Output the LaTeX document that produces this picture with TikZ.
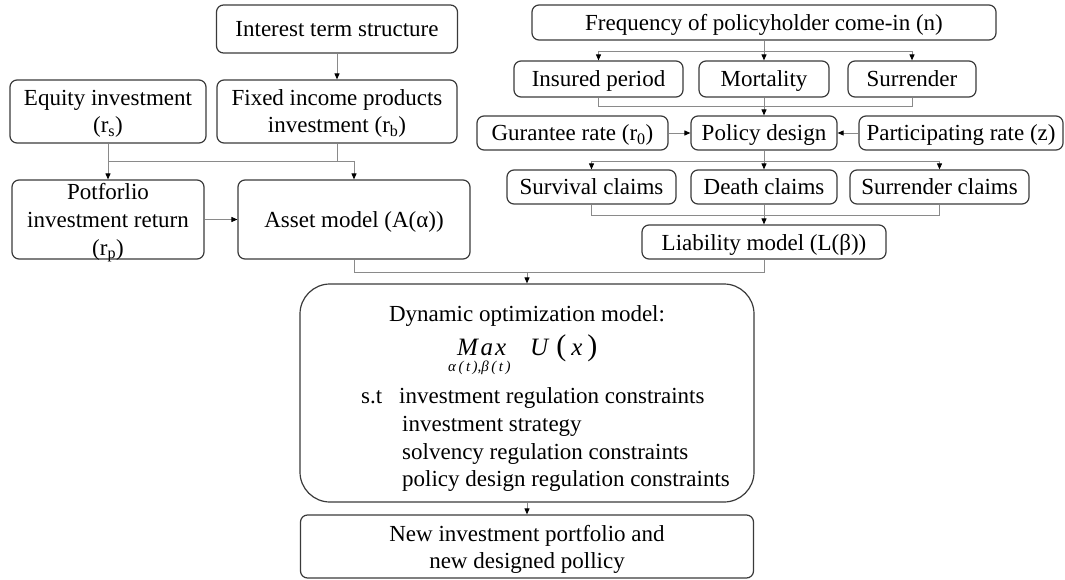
\documentclass[tikz,border=0pt]{standalone}
\usepackage{fontspec}
\setmainfont{Liberation Serif}
\usetikzlibrary{arrows.meta}
\definecolor{boxc}{HTML}{3A3A3A}
\definecolor{linec}{HTML}{8A8A8A}
\begin{document}
\begin{tikzpicture}[x=1pt,y=-1pt,
  box/.style={draw=boxc, line width=1.2pt, rounded corners=7pt, inner sep=0pt, align=center, text height=21pt, text depth=5pt, font=\fontsize{23}{27.5}\selectfont},
  txt/.style={inner sep=0pt, font=\fontsize{23}{27.5}\selectfont},
  conn/.style={draw=linec, line width=0.9pt},
  arr/.style={conn, -{Triangle[length=6pt,width=5pt,color=black]}}]
\useasboundingbox (0,0) rectangle (1065,580);
% left column
\node[box, minimum width=241pt, minimum height=48pt] (its) at (337,29) {Interest term structure};
\node[box, minimum width=196pt, minimum height=63pt] (eq) at (108,111.5) {};
\node[txt, anchor=base] (eq1) at (108,106) {Equity investment};
\node[txt, anchor=base] (eq2) at (108,133) {(r\textsubscript{s})};
\node[box, minimum width=240pt, minimum height=63pt] (fix) at (337,111.5) {};
\node[txt, anchor=base] (fix1) at (337,106) {Fixed income products};
\node[txt, anchor=base] (fix2) at (337,133) {investment (r\textsubscript{b})};
\node[box, minimum width=192pt, minimum height=79pt] (pot) at (108,219.5) {};
\node[txt, anchor=base] (pot1) at (108,200) {Potforlio};
\node[txt, anchor=base] (pot2) at (108,227.5) {investment return};
\node[txt, anchor=base] (pot3) at (108,255) {(r\textsubscript{p})};
\node[box, minimum width=232pt, minimum height=79pt] (asset) at (354,219.5) {Asset model (A(α))};
% right column
\node[box, minimum width=464pt, minimum height=35pt] (freq) at (764,22.5) {Frequency of policyholder come-in (n)};
\node[box, minimum width=169pt, minimum height=36pt] (ins) at (598.5,79) {Insured period};
\node[box, minimum width=130pt, minimum height=36pt] (mort) at (764,79) {Mortality};
\node[box, minimum width=128pt, minimum height=36pt] (surr) at (912,79) {Surrender};
\node[box, minimum width=191pt, minimum height=34pt] (gur) at (572.5,133) {Gurantee rate (r\textsubscript{0})};
\node[box, minimum width=146pt, minimum height=34pt] (pol) at (764,133) {Policy design};
\node[box, minimum width=204pt, minimum height=34pt] (par) at (961,133) {Participating rate (z)};
\node[box, minimum width=169pt, minimum height=34pt] (surv) at (591.5,187) {Survival claims};
\node[box, minimum width=146pt, minimum height=34pt] (death) at (764,187) {Death claims};
\node[box, minimum width=179pt, minimum height=34pt] (surc) at (939.5,187) {Surrender claims};
\node[box, minimum width=244pt, minimum height=34pt] (liab) at (764,242) {Liability model (L(β))};
% bottom
\node[box, rounded corners=30pt, minimum width=454pt, minimum height=218pt] (dyn) at (527,393) {};
\node[box, minimum width=453pt, minimum height=63pt] (new) at (527,546.5) {};
\node[txt, anchor=base] (new1) at (527,541.7) {New investment portfolio and};
\node[txt, anchor=base] (new2) at (527,568.3) {new designed pollicy};
% dynamic model text
\node[txt, anchor=base] (d1) at (527,321.7) {Dynamic optimization model:};
\node[inner sep=0pt, anchor=base west, font=\fontsize{25}{27}\selectfont] (mx) at (457,355) {\itshape M\kern2.5pt a\kern2pt x};
\node[inner sep=0pt, anchor=base west, font=\fontsize{15}{17}\selectfont] (sub) at (448,371) {\itshape α\kern2.5pt(\kern2.5pt t\kern2.5pt),β\kern2.5pt(\kern2.5pt t\kern2.5pt)};
\node[inner sep=0pt, anchor=base west, font=\fontsize{25}{27}\selectfont] (ux) at (530,355) {\itshape U\kern8pt{\upshape\fontsize{30}{30}\selectfont(}\kern5pt x\kern5pt{\upshape\fontsize{30}{30}\selectfont)}};
\node[txt, anchor=base west] (st) at (361,403) {s.t};
\node[txt, anchor=base west] (c1) at (399,403) {investment regulation constraints};
\node[txt, anchor=base west] (c2) at (402,431.5) {investment strategy};
\node[txt, anchor=base west] (c3) at (402,459.3) {solvency regulation constraints};
\node[txt, anchor=base west] (c4) at (402,486.7) {policy design regulation constraints};
% joints
\coordinate (jC) at (0,51);
\coordinate (jD) at (0,106);
\coordinate (jA) at (0,161);
\coordinate (jF) at (0,215);
\coordinate (jB) at (0,272);
% left connectors
\draw[arr] (its.south) -- (fix.north);
\draw[conn] (eq.south) -- (eq.south|-jA) -- (asset.north|-jA);
\draw[conn] (fix.south) -- (fix.south|-jA);
\draw[arr] (eq.south|-jA) -- (pot.north);
\draw[arr] (asset.north|-jA) -- (asset.north);
\draw[arr] (pot.east) -- (asset.west);
\draw[conn] (asset.south) -- (asset.south|-jB) -- (liab.south|-jB) -- (liab.south);
\draw[arr] (dyn.north|-jB) -- (dyn.north);
\draw[arr] (dyn.south) -- (new.north);
% right connectors
\draw[conn] (freq.south) -- (freq.south|-jC);
\draw[conn] (ins.north|-jC) -- (surr.north|-jC);
\draw[arr] (ins.north|-jC) -- (ins.north);
\draw[arr] (mort.north|-jC) -- (mort.north);
\draw[arr] (surr.north|-jC) -- (surr.north);
\draw[conn] (ins.south) -- (ins.south|-jD) -- (surr.south|-jD) -- (surr.south);
\draw[conn] (mort.south) -- (mort.south|-jD);
\draw[arr] (pol.north|-jD) -- (pol.north);
\draw[arr] (gur.east) -- (pol.west);
\draw[arr] (par.west) -- (pol.east);
\draw[conn] (pol.south) -- (pol.south|-jA);
\draw[conn] (surv.north|-jA) -- (surc.north|-jA);
\draw[arr] (surv.north|-jA) -- (surv.north);
\draw[arr] (death.north|-jA) -- (death.north);
\draw[arr] (surc.north|-jA) -- (surc.north);
\draw[conn] (surv.south) -- (surv.south|-jF) -- (surc.south|-jF) -- (surc.south);
\draw[conn] (death.south) -- (death.south|-jF);
\draw[arr] (liab.north|-jF) -- (liab.north);
\end{tikzpicture}
\end{document}
